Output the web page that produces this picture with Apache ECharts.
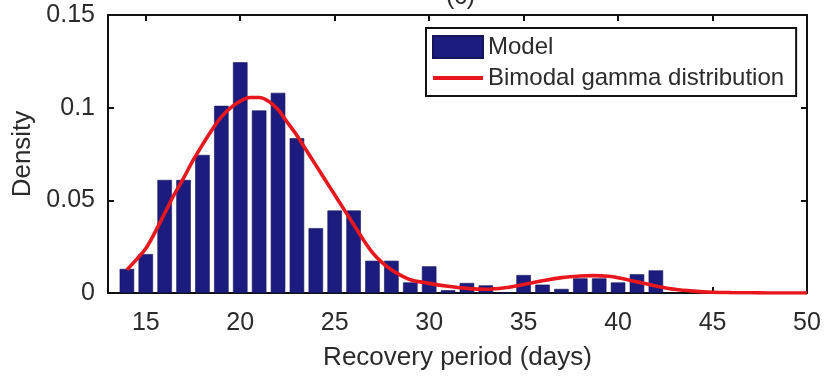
<!DOCTYPE html>
<html>
<head>
<meta charset="utf-8">
<style>
  html, body { margin: 0; padding: 0; background: #ffffff; }
  #chart { width: 827px; height: 377px; }
</style>
<script src="https://cdn.jsdelivr.net/npm/echarts@6/dist/echarts.min.js"></script>
</head>
<body>
<div id="chart"></div>
<script>
// Histogram of recovery periods (days) with the fitted bimodal gamma density.
const binCenters = [14, 15, 16, 17, 18, 19, 20, 21, 22, 23, 24, 25, 26, 27, 28, 29, 30,
                    31, 32, 33, 34, 35, 36, 37, 38, 39, 40, 41, 42];
const modelDensity = [0.013, 0.021, 0.061, 0.061, 0.0745, 0.101, 0.1245, 0.0985, 0.108, 0.0835,
                      0.035, 0.0445, 0.0445, 0.0174, 0.0174, 0.0057, 0.0144,
                      0.0015, 0.0054, 0.0041, 0, 0.0097, 0.0045, 0.0022, 0.0079, 0.0079,
                      0.0057, 0.0101, 0.0122];

const fitX = [14, 14.5, 15, 15.5, 16, 16.5, 17, 17.5, 18, 18.5, 19, 19.5, 20, 20.5, 21, 21.5,
              22, 22.5, 23, 23.5, 24, 24.5, 25, 25.5, 26, 26.5, 27, 27.5, 28, 28.5, 29, 30,
              31, 32, 33, 34, 35, 36, 37, 38, 38.7, 39.5, 40, 41, 42, 43, 44, 45, 46, 47, 48, 49, 50];
const fitDensity = [0.0125, 0.018, 0.024, 0.033, 0.043, 0.053, 0.062, 0.0715, 0.080, 0.088,
                    0.095, 0.100, 0.1035, 0.1055, 0.1055, 0.1035, 0.099, 0.092, 0.085, 0.077,
                    0.069, 0.061, 0.053, 0.045, 0.037, 0.029, 0.0218, 0.0165, 0.0125, 0.0095,
                    0.0072, 0.0052, 0.0036, 0.0025, 0.002, 0.0028, 0.0046, 0.0066, 0.0083,
                    0.0092, 0.0094, 0.009, 0.0082, 0.006, 0.0038, 0.002, 0.001, 0.0004, 0.0002,
                    0.0001, 0, 0, 0];

const xTicks = [15, 20, 25, 30, 35, 40, 45, 50];

const seriesNames = ['Model', 'Bimodal gamma distribution'];
const panelLabel = '(c)';

const FONT = '"Liberation Sans", Arial, sans-serif';
const INK = '#2b2b2b';
const RED = '#e8161d';

const chart = echarts.init(document.getElementById('chart'), null, { renderer: 'canvas' });

const baseX = {
  type: 'value', min: 13, max: 50,
  splitLine: { show: false },
  axisLine: { show: true, onZero: false, lineStyle: { color: '#111', width: 2 } },
  axisTick: { show: true, inside: true, length: 6, customValues: xTicks,
              lineStyle: { color: '#111', width: 2 } }
};
const baseY = {
  type: 'value', min: 0, max: 0.15, interval: 0.05,
  splitLine: { show: false },
  axisLine: { show: true, onZero: false, lineStyle: { color: '#111', width: 2 } },
  axisTick: { show: true, inside: true, length: 6, lineStyle: { color: '#111', width: 2 } }
};

chart.setOption({
  animation: false,
  backgroundColor: '#ffffff',
  title: {
    text: panelLabel, left: 441, top: -20,
    textStyle: { fontFamily: FONT, fontSize: 25, fontWeight: 'normal', color: INK }
  },
  grid: { left: 108, right: 20, top: 15, bottom: 84, containLabel: false },
  legend: {
    orient: 'vertical', left: 426, top: 28,
    padding: [7, 12, 6, 6], itemGap: 7, itemWidth: 50, itemHeight: 22,
    borderColor: '#111', borderWidth: 2, backgroundColor: '#ffffff',
    textStyle: { fontFamily: FONT, fontSize: 24, lineHeight: 22, color: INK },
    data: [
      { name: seriesNames[0], icon: 'rect' },
      { name: seriesNames[1], icon: 'path://M0,0L50,0L50,4L0,4Z' }
    ]
  },
  xAxis: [
    Object.assign({}, baseX, {
      position: 'bottom',
      name: 'Recovery period (days)', nameLocation: 'middle', nameGap: 52,
      nameTextStyle: { fontFamily: FONT, fontSize: 26, color: INK },
      axisLabel: { show: true, customValues: xTicks, margin: 18,
                   fontFamily: FONT, fontSize: 25, color: INK }
    }),
    Object.assign({}, baseX, { position: 'top', axisLabel: { show: false } })
  ],
  yAxis: [
    Object.assign({}, baseY, {
      position: 'left',
      name: 'Density', nameLocation: 'middle', nameGap: 72, nameRotate: 90,
      nameTextStyle: { fontFamily: FONT, fontSize: 26, color: INK },
      axisLabel: { show: true, margin: 13, fontFamily: FONT, fontSize: 25, color: INK,
                   formatter: v => String(+v.toFixed(2)) }
    }),
    Object.assign({}, baseY, { position: 'right', axisLabel: { show: false } })
  ],
  series: [
    {
      name: seriesNames[0], type: 'bar', xAxisIndex: 0, yAxisIndex: 0,
      barWidth: 14.5,
      itemStyle: { color: '#1c1c7e', borderColor: '#15155e', borderWidth: 0.6 },
      data: binCenters.map((x, i) => [x, modelDensity[i]])
    },
    {
      name: seriesNames[1], type: 'line', xAxisIndex: 0, yAxisIndex: 0,
      smooth: 0.35, symbol: 'none', z: 5,
      lineStyle: { color: RED, width: 3.6 },
      itemStyle: { color: RED },
      data: fitX.map((x, i) => [x, fitDensity[i]])
    }
  ]
});
</script>
</body>
</html>
